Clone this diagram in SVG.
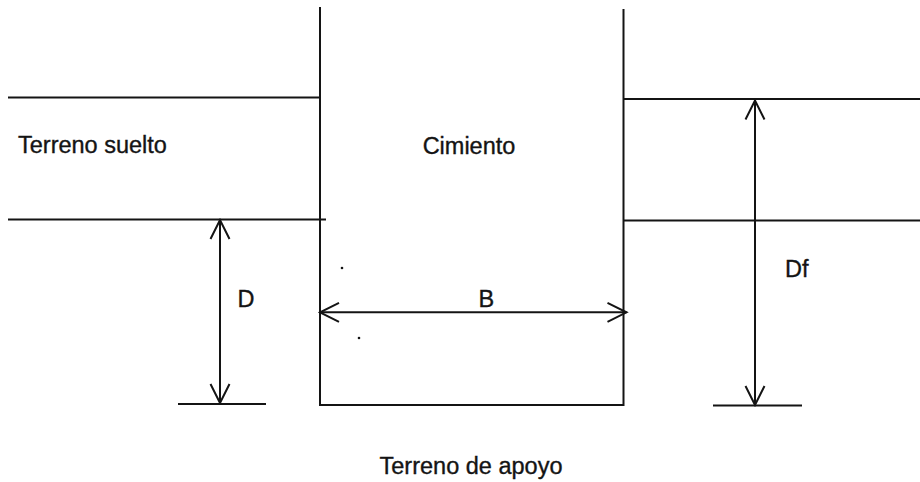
<svg xmlns="http://www.w3.org/2000/svg" width="920" height="482" viewBox="0 0 920 482">
<defs>
<style>
.ln{stroke:#141414;stroke-width:2;fill:none;stroke-linecap:butt}
.dim{stroke:#141414;stroke-width:2;fill:none}
.t{font-family:"Liberation Sans",Arial,sans-serif;font-size:23.5px;fill:#141414;stroke:#141414;stroke-width:0.35}
</style>
<marker id="ah" markerUnits="userSpaceOnUse" viewBox="-22 -12 24 24" markerWidth="24" markerHeight="24" refX="0" refY="0" orient="auto-start-reverse">
<path d="M-19,-9.5 L0,0 L-19,9.5" fill="none" stroke="#141414" stroke-width="2"/>
</marker>
</defs>
<rect width="920" height="482" fill="#ffffff"/>
<g id="soil-lines">
<line class="ln" x1="8" y1="97.5" x2="320" y2="97.5"/>
<line class="ln" x1="8" y1="219.5" x2="326" y2="219.5"/>
<line class="ln" x1="624" y1="99" x2="920" y2="99"/>
<line class="ln" x1="624" y1="220.5" x2="920" y2="220.5"/>
<line class="ln" x1="178" y1="404" x2="266" y2="404"/>
<line class="ln" x1="713" y1="405.5" x2="802" y2="405.5"/>
</g>
<g id="cimiento">
<polyline class="ln" points="320,7 320,405 623.5,405 623.5,9"/>
<text class="t" x="469" y="154" text-anchor="middle">Cimiento</text>
</g>
<g id="terreno-suelto">
<text class="t" x="18" y="152.5">Terreno suelto</text>
</g>
<g id="terreno-apoyo">
<text class="t" x="471" y="474" text-anchor="middle">Terreno de apoyo</text>
</g>
<g id="connectors">
<line class="dim" x1="220" y1="220" x2="220" y2="403" marker-start="url(#ah)" marker-end="url(#ah)"/>
<line class="dim" x1="320" y1="312.3" x2="626.5" y2="312.3" marker-start="url(#ah)" marker-end="url(#ah)"/>
<line class="dim" x1="755" y1="100.5" x2="755" y2="405" marker-start="url(#ah)" marker-end="url(#ah)"/>
</g>
<g id="labels">
<text class="t" x="237.5" y="306.5">D</text>
<text class="t" x="478.5" y="306.5">B</text>
<text class="t" x="785" y="277">Df</text>
</g>
<g id="specks" fill="#141414">
<circle cx="342" cy="268" r="1.3"/>
<circle cx="359" cy="338" r="1.3"/>
</g>
</svg>
